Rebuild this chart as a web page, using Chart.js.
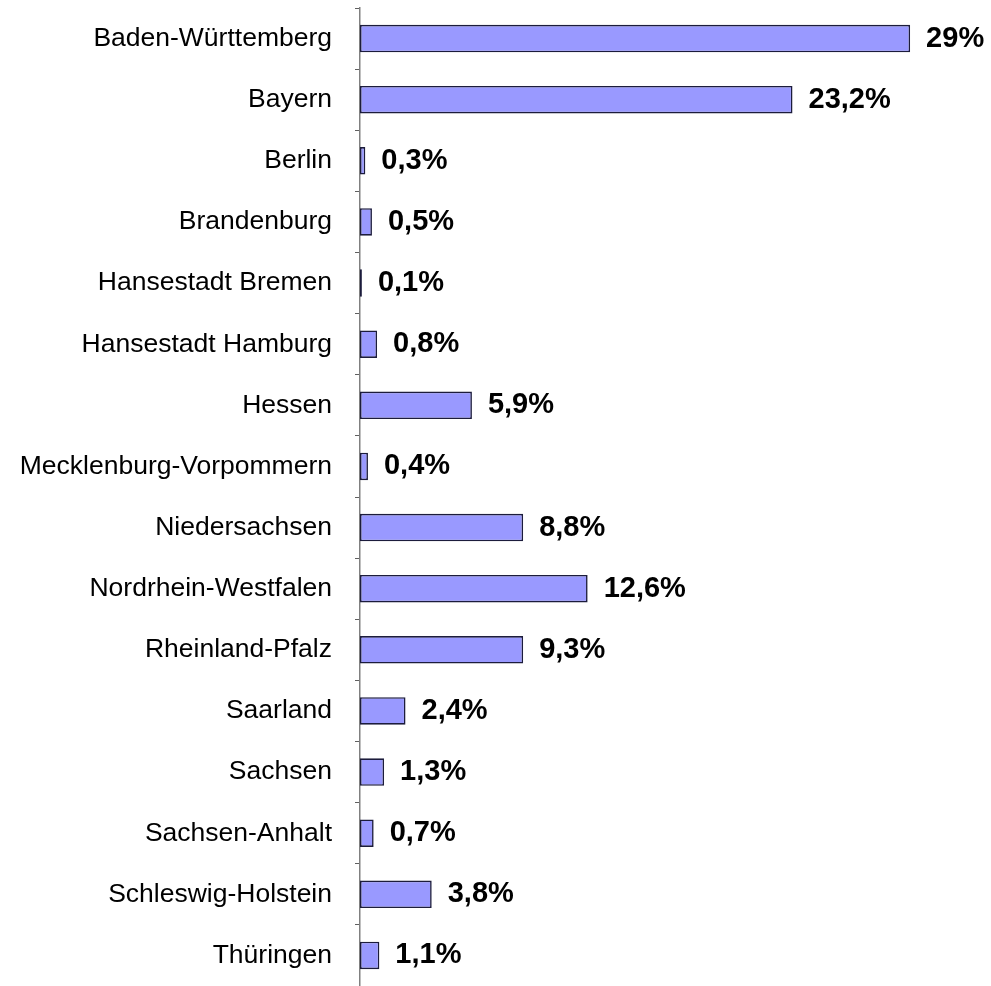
<!DOCTYPE html>
<html>
<head>
<meta charset="utf-8">
<script src="https://cdn.jsdelivr.net/npm/chart.js@4/dist/chart.umd.min.js"></script>
<style>
  html, body { margin: 0; padding: 0; background: #fff; }
  #wrap { width: 991px; height: 986px; position: relative; }
</style>
</head>
<body>
<div id="wrap"><canvas id="barChart"></canvas></div>
<script>
// ===== Data =====
const states = [
  "Baden-Württemberg",
  "Bayern",
  "Berlin",
  "Brandenburg",
  "Hansestadt Bremen",
  "Hansestadt Hamburg",
  "Hessen",
  "Mecklenburg-Vorpommern",
  "Niedersachsen",
  "Nordrhein-Westfalen",
  "Rheinland-Pfalz",
  "Saarland",
  "Sachsen",
  "Sachsen-Anhalt",
  "Schleswig-Holstein",
  "Thüringen",
];

// bar lengths as drawn (percent)
const shares = [29, 22.8, 0.28, 0.63, 0.1, 0.9, 5.9, 0.42, 8.6, 12.0, 8.6, 2.4, 1.27, 0.72, 3.78, 1.02];

// printed value labels
const shareText = ["29%", "23,2%", "0,3%", "0,5%", "0,1%", "0,8%", "5,9%", "0,4%", "8,8%", "12,6%", "9,3%", "2,4%", "1,3%", "0,7%", "3,8%", "1,1%"];

const FONT = '"Liberation Sans", Arial, sans-serif';

// ===== Value labels plugin =====
const valueLabels = {
  id: "valueLabels",
  afterDatasetsDraw(chart) {
    const ctx = chart.ctx;
    const meta = chart.getDatasetMeta(0);
    ctx.save();
    ctx.font = "bold 29px " + FONT;
    ctx.fillStyle = "#000";
    ctx.textAlign = "left";
    ctx.textBaseline = "middle";
    meta.data.forEach((bar, i) => {
      ctx.fillText(shareText[i], bar.x + 16, bar.y);
    });
    ctx.restore();
  },
};

// ===== Chart =====
const barCtx = document.getElementById("barChart");
let barChart = new Chart(barCtx, {
  type: "bar",
  data: {
    labels: states,
    datasets: [
      {
        data: shares,
        backgroundColor: "#9999ff",
        borderColor: "#1c1c3c",
        borderWidth: 1.6,
        borderSkipped: false,
        barPercentage: 0.45,
        categoryPercentage: 1,
      },
    ],
  },
  options: {
    indexAxis: "y",
    responsive: true,
    maintainAspectRatio: false,
    animation: false,
    layout: { padding: { top: 8, right: 5, bottom: 0, left: 0 } },
    plugins: {
      legend: { display: false },
      tooltip: { enabled: false },
    },
    scales: {
      x: {
        display: false,
        min: 0,
        max: 33,
      },
      y: {
        afterFit(scale) {
          scale.width = 360;
          scale.paddingTop = 0;
          scale.paddingBottom = 0;
        },
        border: { display: true, color: "#808080", width: 1.5 },
        grid: {
          display: true,
          drawOnChartArea: false,
          drawTicks: true,
          tickLength: 5,
          color: "#606060",
          offset: true,
        },
        ticks: {
          color: "#000",
          padding: 23,
          font: { family: FONT, size: 26.5 },
        },
      },
    },
  },
  plugins: [valueLabels],
});
</script>
</body>
</html>
